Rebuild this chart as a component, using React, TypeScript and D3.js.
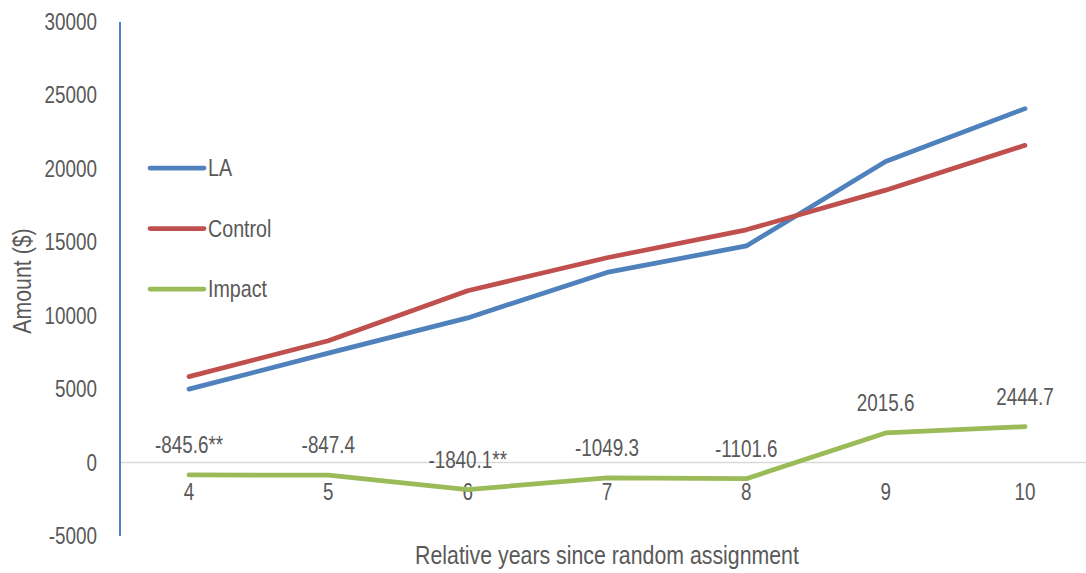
import React from "react";
import * as d3 from "d3";

const years = [4, 5, 6, 7, 8, 9, 10];
const laValues = [5000, 7450, 9850, 12950, 14750, 20500, 24100];
const controlValues = [5850, 8300, 11700, 13950, 15850, 18550, 21600];
const impactValues = [-845.6, -847.4, -1840.1, -1049.3, -1101.6, 2015.6, 2444.7];
const impactLabels = ["-845.6**", "-847.4", "-1840.1**", "-1049.3", "-1101.6", "2015.6", "2444.7"];
const yTicks = [-5000, 0, 5000, 10000, 15000, 20000, 25000, 30000];
const seriesNames = ["LA", "Control", "Impact"];
const seriesColors = ["#4F81BD", "#C0504D", "#9BBB59"];

const W = 1086;
const H = 573;
const FONT = "'Liberation Sans', Arial, sans-serif";
const NARROW = 0.82;
const textColor = "#595959";

function NText(props: {
  x: number;
  y: number;
  size: number;
  anchor?: "start" | "middle" | "end";
  rotate?: number;
  children: React.ReactNode;
}) {
  const { x, y, size, anchor = "start", rotate = 0, children } = props;
  return (
    <g transform={`translate(${x},${y}) rotate(${rotate}) scale(${NARROW},1)`}>
      <text x={0} y={0} dy="0.35em" textAnchor={anchor} fontSize={size} fill={textColor} fontFamily={FONT}>
        {children}
      </text>
    </g>
  );
}

export default function App() {
  const x = d3.scalePoint<number>().domain(years).range([189, 1025]);
  const y = d3.scaleLinear().domain([-5000, 30000]).range([536, 22]);
  const line = d3
    .line<number>()
    .x((_, i) => x(years[i]) as number)
    .y((d) => y(d));
  const series = [laValues, controlValues, impactValues];

  return (
    <svg width={W} height={H} style={{ position: "absolute", left: 0, top: 0 }}>
      <rect width={W} height={H} fill="#fff" />
      <line x1={120} x2={1086} y1={y(0)} y2={y(0)} stroke="#D9D9D9" strokeWidth={1.5} />
      <line x1={120} x2={120} y1={y(30000)} y2={y(-5000)} stroke="#4F81BD" strokeWidth={2} />
      {yTicks.map((t) => (
        <NText key={t} x={97} y={y(t)} size={23} anchor="end">
          {t}
        </NText>
      ))}
      {years.map((yr) => (
        <NText key={yr} x={x(yr) as number} y={492} size={23} anchor="middle">
          {yr}
        </NText>
      ))}
      {series.map((s, i) => (
        <path
          key={i}
          d={line(s) || ""}
          fill="none"
          stroke={seriesColors[i]}
          strokeWidth={4.75}
          strokeLinecap="round"
          strokeLinejoin="round"
        />
      ))}
      {impactValues.map((v, i) => (
        <NText key={i} x={x(years[i]) as number} y={y(v) - 30} size={23} anchor="middle">
          {impactLabels[i]}
        </NText>
      ))}
      {seriesNames.map((n, i) => (
        <g key={n}>
          <line
            x1={150}
            x2={204}
            y1={168 + i * 60.5}
            y2={168 + i * 60.5}
            stroke={seriesColors[i]}
            strokeWidth={4.75}
            strokeLinecap="round"
          />
          <NText x={208} y={168 + i * 60.5} size={24}>
            {n}
          </NText>
        </g>
      ))}
      <NText x={22} y={281} size={26} anchor="middle" rotate={-90}>
        Amount ($)
      </NText>
      <NText x={607} y={555} size={26} anchor="middle">
        Relative years since random assignment
      </NText>
    </svg>
  );
}
